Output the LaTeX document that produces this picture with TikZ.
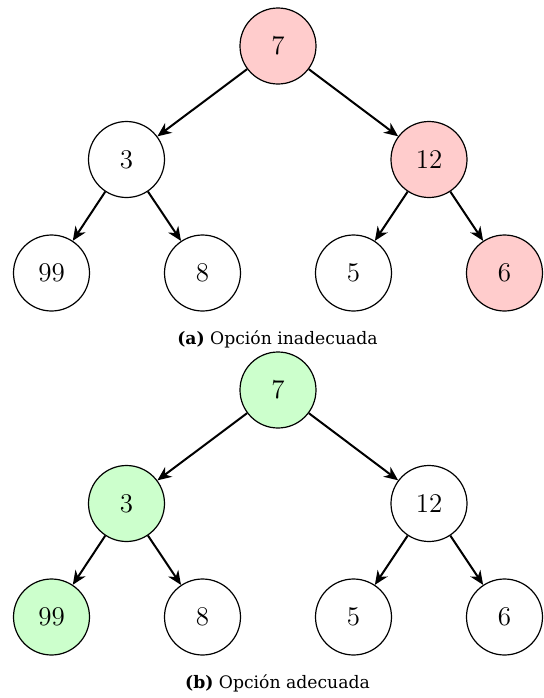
\documentclass[tikz,border=0pt]{standalone}
\usepackage{fontspec}
\newfontfamily\capfont{DejaVu Serif}
\usetikzlibrary{arrows.meta}
\definecolor{badfill}{HTML}{FFCCCC}
\definecolor{goodfill}{HTML}{CCFFCC}
\begin{document}
\begin{tikzpicture}[x=0.5pt,y=-0.5pt,
  vtx/.style={circle,draw=black,line width=0.6pt,minimum size=38pt,inner sep=0pt,
    font=\fontsize{13.5}{15}\selectfont},
  bad/.style={vtx,fill=badfill},
  good/.style={vtx,fill=goodfill},
  edge/.style={-{Stealth[length=7pt,width=6pt,inset=2.2pt]},line width=1pt},
  captext/.style={font=\capfont\fontsize{8.6}{10}\selectfont}]
\useasboundingbox (0,0) rectangle (543,698);
% tree (a)
\node[bad] (a1) at (278,46) {7};
\node[vtx] (a2) at (126.5,159.5) {3};
\node[bad] (a3) at (429,159.5) {12};
\node[vtx] (a4) at (51.5,273) {99};
\node[vtx] (a5) at (202.5,273) {8};
\node[vtx] (a6) at (353.5,273) {5};
\node[bad] (a7) at (504.5,273) {6};
\draw[edge] (a1) -- (a2);
\draw[edge] (a1) -- (a3);
\draw[edge] (a2) -- (a4);
\draw[edge] (a2) -- (a5);
\draw[edge] (a3) -- (a6);
\draw[edge] (a3) -- (a7);
\node[captext] (capa) at (277.5,339) {\textbf{(a)} Opción inadecuada};
% tree (b)
\node[good] (b1) at (278,390) {7};
\node[good] (b2) at (126.5,503.5) {3};
\node[vtx] (b3) at (429,503.5) {12};
\node[good] (b4) at (51.5,617) {99};
\node[vtx] (b5) at (202.5,617) {8};
\node[vtx] (b6) at (353.5,617) {5};
\node[vtx] (b7) at (504.5,617) {6};
\draw[edge] (b1) -- (b2);
\draw[edge] (b1) -- (b3);
\draw[edge] (b2) -- (b4);
\draw[edge] (b2) -- (b5);
\draw[edge] (b3) -- (b6);
\draw[edge] (b3) -- (b7);
\node[captext] (capb) at (277.5,683) {\textbf{(b)} Opción adecuada};
\end{tikzpicture}
\end{document}
